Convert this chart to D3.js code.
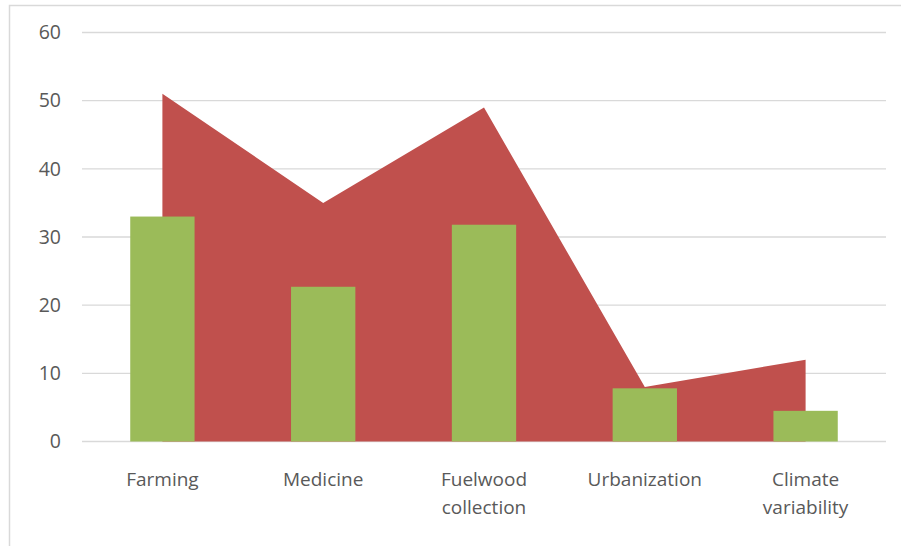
<!DOCTYPE html>
<html><head><meta charset="utf-8">
<script src="https://cdn.jsdelivr.net/npm/d3@7"></script>
<style>body{margin:0;background:#fff;} text{font-family:"Open Sans",sans-serif;}</style>
</head><body>
<svg id="c" width="901" height="546"></svg>
<script>
const categories = ["Farming", "Medicine", "Fuelwood collection", "Urbanization", "Climate variability"];
const areaValues = [51, 35, 49, 8, 12];
const barValues = [33, 22.7, 31.8, 7.8, 4.5];
const yTicks = [0, 10, 20, 30, 40, 50, 60];

const svg = d3.select("#c");
const m = {left: 82, right: 15, top: 32.5, bottom: 104.5};
const W = 901, H = 546;
svg.append("rect").attr("x", 9.5).attr("y", 5.5).attr("width", 900).attr("height", 600)
  .attr("fill", "none").attr("stroke", "#d9d9d9").attr("stroke-width", 1.5);

const x = d3.scaleBand().domain(categories).range([m.left, W - m.right]).paddingInner(0).paddingOuter(0);
const y = d3.scaleLinear().domain([0, 60]).range([H - m.bottom, m.top]);

// gridlines
svg.append("g").selectAll("line").data(yTicks).join("line")
  .attr("x1", m.left).attr("x2", W - m.right)
  .attr("y1", d => y(d)).attr("y2", d => y(d))
  .attr("stroke", "#d9d9d9").attr("stroke-width", 1.3);

const cx = d => x(d) + x.bandwidth() / 2;
const area = d3.area().x((d, i) => cx(categories[i])).y0(y(0)).y1(d => y(d));
svg.append("path").datum(areaValues).attr("d", area).attr("fill", "#C0504D");

const bw = x.bandwidth() * 0.4;
svg.append("g").selectAll("rect").data(barValues).join("rect")
  .attr("x", (d, i) => cx(categories[i]) - bw / 2)
  .attr("width", bw)
  .attr("y", d => y(d))
  .attr("height", d => y(0) - y(d))
  .attr("fill", "#9BBB59");

// y tick labels
svg.append("g").selectAll("text").data(yTicks).join("text")
  .attr("x", 61).attr("y", d => y(d)).attr("dy", "0.35em")
  .attr("text-anchor", "end").attr("fill", "#595959").attr("font-size", 19.5)
  .text(d => d);

// category labels
const lines = {"Fuelwood collection": ["Fuelwood", "collection"], "Climate variability": ["Climate", "variability"]};
const lab = svg.append("g").selectAll("text").data(categories).join("text")
  .attr("x", d => cx(d)).attr("y", 479)
  .attr("text-anchor", "middle").attr("fill", "#595959").attr("font-size", 19);
lab.each(function(d) {
  const ls = lines[d] || [d];
  d3.select(this).selectAll("tspan").data(ls).join("tspan")
    .attr("x", cx(d)).attr("dy", (t, i) => i === 0 ? "0.35em" : 28).text(t => t);
});
</script>
</body></html>
